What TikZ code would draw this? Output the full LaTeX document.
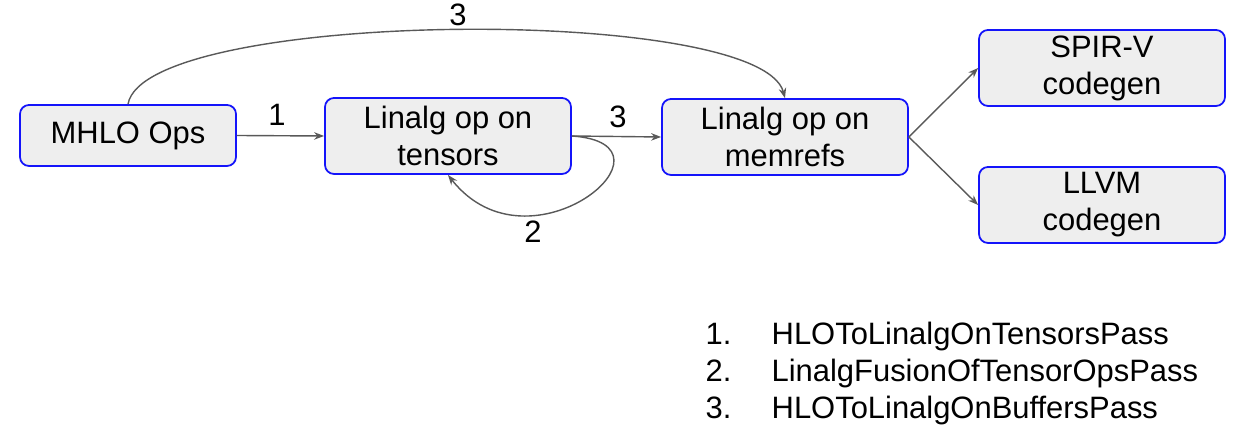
\documentclass[tikz,border=0pt]{standalone}
\usepackage{fontspec}
\setmainfont{Liberation Sans}
\usetikzlibrary{arrows.meta}
\definecolor{boxblue}{RGB}{20,20,250}
\definecolor{boxgray}{RGB}{238,238,238}
\definecolor{arrowgray}{RGB}{89,89,89}
\tikzset{
  passbox/.style={draw=boxblue, fill=boxgray, rounded corners=0.09cm, line width=0.5pt,
    minimum width=2.46cm, minimum height=0.76cm, align=center, inner sep=0pt,
    font=\fontsize{8.8}{10.5}\selectfont},
  flow/.style={draw=arrowgray, line width=0.4pt, -{Stealth[length=0.1cm,width=0.075cm]}},
  passno/.style={font=\fontsize{8.8}{10.5}\selectfont, inner sep=0pt}
}
\begin{document}
\begin{tikzpicture}
\useasboundingbox (0,0) rectangle (12.4,4.39);
% boxes
\node [passbox, minimum width=2.16cm, minimum height=0.61cm] (mhlo) at (1.28,3.035) {MHLO Ops};
\node [passbox] (tensors) at (4.48,3.03) {Linalg op on\\tensors};
\node [passbox] (memrefs) at (7.85,3.02) {Linalg op on\\memrefs};
\node [passbox] (spirv) at (11.02,3.71) {SPIR-V\\codegen};
\node [passbox] (llvm) at (11.02,2.34) {LLVM\\codegen};
% passes
\draw [flow] (mhlo.east) -- (tensors.west);
\node [passno] (one) at (2.77,3.24) {1};
\draw [flow] (tensors.east) -- (memrefs.west);
\node [passno] (three) at (6.18,3.22) {3};
\draw [flow] (tensors.east) .. controls (6.9,2.95) and (5.3,1.6) .. (4.48,2.64);
\node [passno] (two) at (5.33,2.07) {2};
\draw [flow] (mhlo.north) .. controls (1.45,4.3) and (7.6,4.35) .. (memrefs.north);
\node [passno] (threetop) at (4.58,4.24) {3};
\draw [flow] (memrefs.east) -- (spirv.west);
\draw [flow] (memrefs.east) -- (llvm.west);
% legend
\node [passno, anchor=west] (legend) at (7.05,0.65) {%
  \begin{tabular}{@{}p{0.66cm}@{}l@{}}
  1. & HLOToLinalgOnTensorsPass\\
  2. & LinalgFusionOfTensorOpsPass\\
  3. & HLOToLinalgOnBuffersPass
  \end{tabular}};
\end{tikzpicture}
\end{document}
